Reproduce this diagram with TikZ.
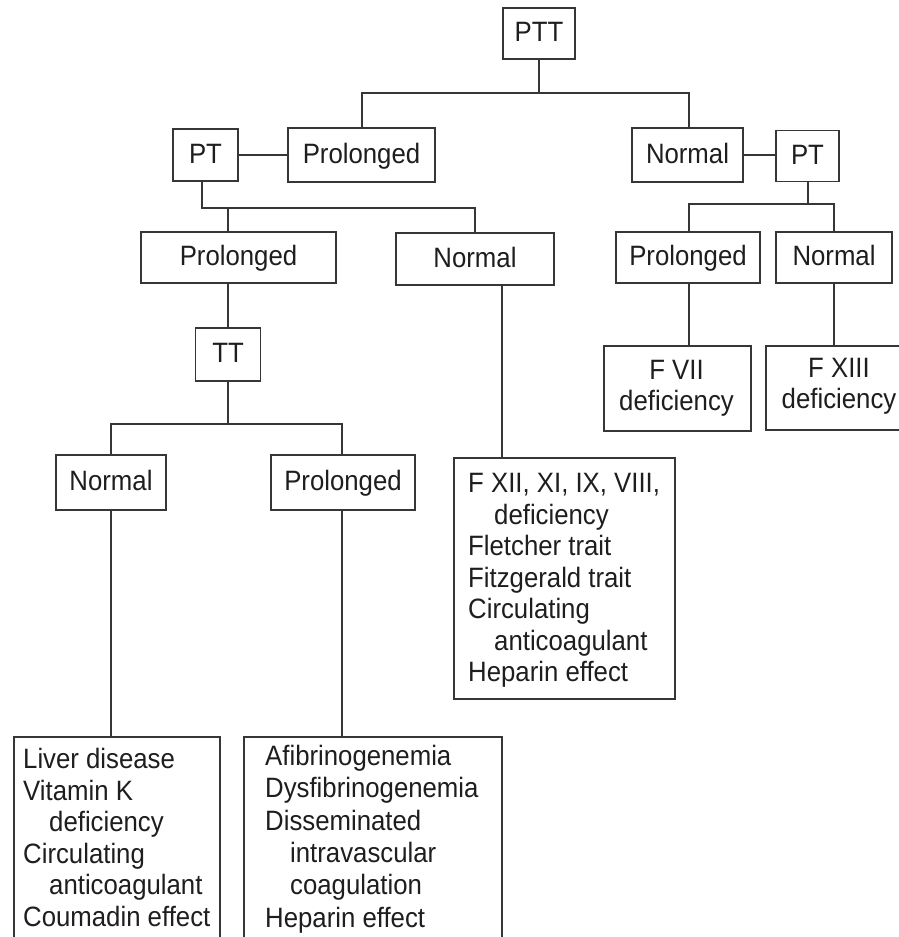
\documentclass[tikz,border=0pt]{standalone}
\usepackage{fontspec}
\setmainfont{Liberation Sans}[FakeStretch=0.92]
\definecolor{ink}{HTML}{363636}
\definecolor{txt}{HTML}{1E1E1E}
\newcommand\fs{\fontsize{28}{31.5}\selectfont}
\newcommand\fsb{\fontsize{28}{32.3}\selectfont}
\begin{document}
\begin{tikzpicture}[x=1pt,y=-1pt,
  box/.style={draw=ink, line width=1.7pt, inner sep=0pt, text=txt, font=\fs, text height=20pt, text depth=4pt},
  frame/.style={draw=ink, line width=1.7pt, inner sep=0pt},
  lbl/.style={text=txt, font=\fs, inner sep=0pt, anchor=north west, align=left},
  clbl/.style={text=txt, font=\fs, inner sep=0pt, anchor=north, align=center},
  link/.style={draw=ink, line width=1.7pt}]
\useasboundingbox (0,0) rectangle (899,937);
\clip (0,0) rectangle (899,937);
\fill[white] (0,0) rectangle (899,937);

% boxes
\node[box, minimum width=72pt, minimum height=51pt] (ptt) at (539,33.5) {PTT};
\node[box, minimum width=147pt, minimum height=54pt] (proltop) at (361.5,155) {Prolonged};
\node[box, minimum width=65pt, minimum height=52pt] (ptl) at (205.5,155) {PT};
\node[box, minimum width=111pt, minimum height=54pt] (normtop) at (687.5,155) {Normal};
\node[box, minimum width=63pt, minimum height=51pt] (ptr) at (807.5,156) {PT};
\node[box, minimum width=144pt, minimum height=51pt] (prolr) at (688,257.5) {Prolonged};
\node[box, minimum width=116pt, minimum height=51pt] (normr) at (834,257.5) {Normal};
\node[box, minimum width=195pt, minimum height=51pt] (prolm) at (238.5,257.5) {Prolonged};
\node[box, minimum width=158pt, minimum height=52pt] (normm) at (475,259) {Normal};
\node[box, minimum width=65pt, minimum height=53pt] (tt) at (228,354.5) {TT};
\node[box, minimum width=110pt, minimum height=55pt] (normbl) at (111,482.5) {Normal};
\node[box, minimum width=144pt, minimum height=55pt] (prolb) at (343,482.5) {Prolonged};

\node[frame, anchor=north west, minimum width=147pt, minimum height=85pt] (fvii) at (603,345) {};
\node[frame, anchor=north west, minimum width=150pt, minimum height=84pt] (fxiii) at (765,345) {};
\node[frame, anchor=north west, minimum width=221pt, minimum height=241pt] (fxii) at (453,457) {};
\node[frame, anchor=north west, minimum width=206pt, minimum height=240pt] (liver) at (13,736) {};
\node[frame, anchor=north west, minimum width=258pt, minimum height=240pt] (afib) at (243,736) {};

% box texts
\node[clbl] (tfvii) at (676.5,359) {\rule{0pt}{20pt}F VII\\deficiency};
\node[clbl] (tfxiii) at (839,357) {\rule{0pt}{20pt}F XIII\\deficiency};
\node[lbl] (tfxii) at (468,472.7) {\rule{0pt}{20pt}F XII, XI, IX, VIII,\\\hspace*{26pt}deficiency\\Fletcher trait\\Fitzgerald trait\\Circulating\\\hspace*{26pt}anticoagulant\\Heparin effect};
\node[lbl] (tliver) at (23,748) {\rule{0pt}{20pt}Liver disease\\Vitamin K\\\hspace*{26pt}deficiency\\Circulating\\\hspace*{26pt}anticoagulant\\Coumadin effect};
\node[lbl, font=\fsb] (tafib) at (265,745) {\rule{0pt}{20pt}Afibrinogenemia\\Dysfibrinogenemia\\Disseminated\\\hspace*{25pt}intravascular\\\hspace*{25pt}coagulation\\Heparin effect};

% junctions
\coordinate (j0) at (539,93);
\coordinate (j0L) at (362,93);
\coordinate (j0R) at (689,93);
\coordinate (j1) at (202,208);
\coordinate (j1L) at (228,208);
\coordinate (j1R) at (475,208);
\coordinate (j2) at (808,204);
\coordinate (j2L) at (689,204);
\coordinate (j2R) at (834,204);
\coordinate (j3) at (228,424);
\coordinate (j3L) at (111,424);
\coordinate (j3R) at (342,424);
\coordinate (k1) at (502,300);

% connectors
\draw[link] (ptt.south) -- (j0);
\draw[link] (j0L |- proltop.north) -- (j0L) -- (j0R) -- (j0R |- normtop.north);
\draw[link] (ptl.east) -- (ptl.east -| proltop.west);
\draw[link] (normtop.east) -- (normtop.east -| ptr.west);
\draw[link] (j1 |- ptl.south) -- (j1) -- (j1R) -- (j1R |- normm.north);
\draw[link] (j1L) -- (j1L |- prolm.north);
\draw[link] (j2 |- ptr.south) -- (j2);
\draw[link] (j2L |- prolr.north) -- (j2L) -- (j2R) -- (j2R |- normr.north);
\draw[link] (tt.north) -- (tt.north |- prolm.south);
\draw[link] (tt.south) -- (j3);
\draw[link] (j3L |- normbl.north) -- (j3L) -- (j3R) -- (j3R |- prolb.north);
\draw[link] (normbl.south) -- (normbl.south |- liver.north);
\draw[link] (j3R |- prolb.south) -- (j3R |- afib.north);
\draw[link] (k1 |- normm.south) -- (k1 |- fxii.north);
\draw[link] (j2L |- prolr.south) -- (j2L |- fvii.north);
\draw[link] (j2R |- normr.south) -- (j2R |- fxiii.north);
\end{tikzpicture}
\end{document}
